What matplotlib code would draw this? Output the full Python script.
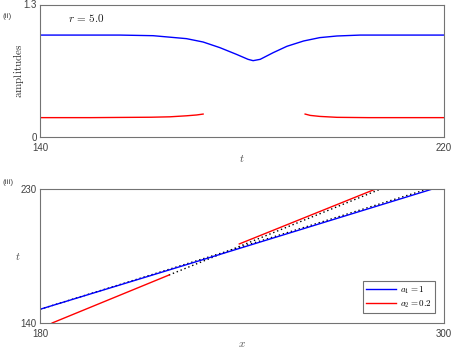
import matplotlib
matplotlib.use("Agg")
import matplotlib.pyplot as plt

plt.rcParams['mathtext.fontset'] = 'cm'
plt.rcParams['font.family'] = ['Liberation Sans', 'DejaVu Sans']

# ---- panel (ii): amplitudes vs t ----
t_blue = [140, 150, 155.8, 162.4, 169.0, 172.3, 175.6, 178.9, 181.2, 182.2,
          183.6, 186.2, 188.9, 192.2, 195.4, 198.8, 203.4, 210, 220]
a_blue = [1.0, 1.0, 1.0, 0.994, 0.965, 0.932, 0.877, 0.811, 0.762, 0.749,
          0.762, 0.828, 0.890, 0.942, 0.975, 0.991, 1.0, 1.0, 1.0]
t_red1 = [140, 150, 155.8, 162, 165.7, 169.0, 171, 172.3]
a_red1 = [0.19, 0.19, 0.192, 0.194, 0.198, 0.208, 0.216, 0.225]
t_red2 = [192.5, 193.5, 195.4, 198.8, 205, 220]
a_red2 = [0.225, 0.212, 0.202, 0.193, 0.19, 0.19]

# ---- panel (iii): trajectories x vs t ----
x_blue = [180, 226, 296.6]
tt_blue = [149.2, 180.9, 230]
x_red1 = [183.6, 218.3]
tt_red1 = [140, 172.2]
x_red2 = [239.2, 279.7]
tt_red2 = [193.1, 230]
x_dot_red = [218.3, 281.2]
tt_dot_red = [172.2, 230]
x_dot_blue = [180, 295.2]
tt_dot_blue = [149.2, 230]

r_value = "5.0"
labels = [r"$a_1 = 1$", r"$a_2 = 0.2$"]

W, H = 452, 348
fig = plt.figure(figsize=(W / 100, H / 100), dpi=100)

def axes_px(l, r, t, b):
    return fig.add_axes([l / W, 1 - b / H, (r - l) / W, (b - t) / H])

spine_col = '0.45'
tick_col = '0.25'

def style(ax):
    for s in ax.spines.values():
        s.set_color(spine_col)
        s.set_linewidth(0.8)
    ax.tick_params(length=0, labelsize=7, colors=tick_col)
    ax.tick_params(axis='x', pad=4)
    ax.tick_params(axis='y', pad=2.5)

ax1 = axes_px(40, 444, 4.5, 137)
ax1.plot(t_blue, a_blue, color='#0000ff', lw=1.0)
ax1.plot(t_red1, a_red1, color='#ff0000', lw=1.0)
ax1.plot(t_red2, a_red2, color='#ff0000', lw=1.0)
ax1.set_xlim(140, 220)
ax1.set_ylim(0, 1.3)
ax1.set_xticks([140, 220])
ax1.set_yticks([0, 1.3])
ax1.set_yticklabels(['0', '1.3'])
style(ax1)
ax1.set_ylabel(r"$\mathrm{amplitudes}$", fontsize=8, color='0.2', labelpad=-2)
ax1.set_xlabel(r"$t$", fontsize=8, color='0.3', labelpad=0)
ax1.text(0.07, 0.87, r"$r\,=\,%s$" % r_value, transform=ax1.transAxes,
         fontsize=8, color='0.1')

ax2 = axes_px(40, 444, 189, 323)
ax2.plot(x_dot_blue, tt_dot_blue, color='k', lw=1.0, ls=(0, (1, 2)))
ax2.plot(x_dot_red, tt_dot_red, color='k', lw=1.0, ls=(0, (1, 2)))
ax2.plot(x_blue, tt_blue, color='#0000ff', lw=1.0, label=labels[0])
ax2.plot(x_red1, tt_red1, color='#ff0000', lw=1.0, label=labels[1])
ax2.plot(x_red2, tt_red2, color='#ff0000', lw=1.0)
ax2.set_xlim(180, 300)
ax2.set_ylim(140, 230)
ax2.set_xticks([180, 300])
ax2.set_yticks([140, 230])
style(ax2)
ax2.set_xlabel(r"$x$", fontsize=8, color='0.3', labelpad=0)
ax2.set_ylabel(r"$t$", fontsize=8, color='0.3', labelpad=2, rotation=0, va='center')
leg = ax2.legend(loc='lower right', fontsize=6.5, handlelength=3.3,
                 frameon=True, fancybox=False, borderpad=0.35,
                 labelspacing=0.25, handletextpad=0.5, borderaxespad=0,
                 bbox_to_anchor=(0.978, 0.075))
leg.get_frame().set_edgecolor('0.3')
leg.get_frame().set_linewidth(0.8)

fig.text(3 / W, 1 - 17 / H, "(ii)", fontsize=6, color='0.3', va='center')
fig.text(3 / W, 1 - 183 / H, "(iii)", fontsize=6, color='0.3', va='center')

fig.savefig("out.png", dpi=100)
